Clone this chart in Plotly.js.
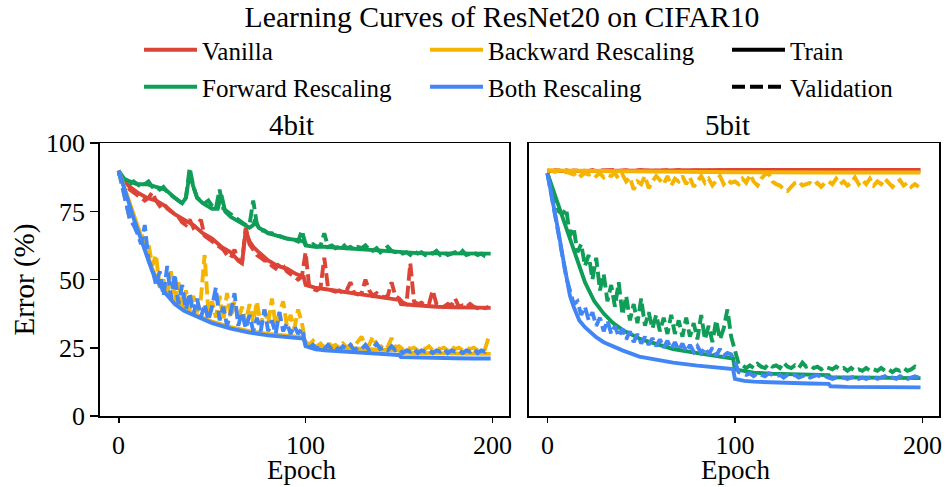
<!DOCTYPE html>
<html><head><meta charset="utf-8">
<script src="https://cdn.plot.ly/plotly-3.0.1.min.js"></script>
<style>html,body{margin:0;padding:0;background:#fff;} #chart{width:948px;height:487px;}</style>
</head><body><div id="chart"></div>
<script>
// ---------------- DATA ----------------
const methods = ['Vanilla', 'Forward Rescaling', 'Backward Rescaling', 'Both Rescaling'];
const panelTitles = ['4bit', '5bit'];
const xTicks = [0, 100, 200];
const yTicks = [0, 25, 50, 75, 100];

const epochsVal = [0,2,4,6,8,10,12,14,16,18,20,22,24,26,28,30,32,34,36,38,40,42,44,46,48,50,52,54,56,58,60,62,64,66,68,70,72,74,76,78,80,82,84,86,88,90,92,94,96,98,100,102,104,106,108,110,112,114,116,118,120,122,124,126,128,130,132,134,136,138,140,142,144,146,148,150,152,154,156,158,160,162,164,166,168,170,172,174,176,178,180,182,184,186,188,190,192,194,196,198];

// ---- 4bit ----
const vanilla4TrainEpochs = [0,3,6,10,15,20,25,30,35,40,45,50,55,60,64,66,67,68,70,72,75,80,85,90,95,99,100,105,110,120,130,140,150,151,160,170,180,190,199];
const vanilla4Train = [89,86,84,82,80,79,77,74,72,70,67,65,62,60,57,56,62,68,64,62,60,57,55,54,52,51,48,47,46.5,45.5,44.5,43.5,42.5,41,40.5,40,39.8,39.7,39.6];
const vanilla4Val = [
 89,86,85,83,82,81,80,79,80,82,
 79,77,78,76,75,74,73,71,70,72,
 69,70,72,66,65,64,63,62,61,59,
 58,61,57,56,69,63,61,59,58,57,
 57,55,54,56,55,53,52,51,50,51,
 60,47,46.5,46,47,58,47,46,45.5,46,
 45,46,49,45,44.5,45,50,46,44,45,
 44,43.5,44,49,44,43,41.5,41,56,42,
 41,41.5,40.5,41,46,41,40.5,40,41,40.5,
 43,40,40.5,40,41,40,39.5,40,39.5,40];

const forward4TrainEpochs = [0,3,6,10,15,20,25,30,34,36,38,40,42,45,50,53,55,57,60,65,70,72,73,75,80,85,90,95,99,100,105,110,120,130,140,150,151,160,170,180,190,199];
const forward4Train = [90,87,86,85,85,84,83,80,78,80,89,84,80,78,76,76,81,75,73,71,69,70,72,69,67,66,65,64.5,64,62.5,62,62,61.5,61,60.5,60.2,59.8,59.7,59.6,59.6,59.5,59.5];
const forward4Val = [
 90,87,86,85,86,85,84,85,86,84,
 84,83,84,82,81,80,79,78,80,91,
 84,80,79,78,79,77,76,83,76,75,
 74,73,72,71,70,70,79,70,68,68,
 67,67,66,66,65.5,65,65,64.5,64,68,
 63,62.5,63,62,62.5,67,62,62.5,61.5,62,
 63,61.5,62,61,62,61.5,62.5,61,60.5,61.5,
 60,61,62,60.5,60,60.5,59.5,60,59,60.5,
 59.5,60,59,60,59.5,60.5,59,60,59,59.5,
 60,59,60.5,59,59.5,60,59,59.5,58.5,58];

const backward4TrainEpochs = [0,2,4,6,8,10,12,14,16,18,20,25,30,35,40,45,50,60,70,80,90,99,100,105,110,120,130,140,150,151,160,170,180,190,199];
const backward4Train = [90,86,81,77,73,69,65,61,57,54,51,46,42,39.5,37.5,36,34.5,32.5,31,30,29.3,28.8,26.5,25.5,25.2,24.8,24.5,24.2,24,23.2,23,22.9,22.8,22.8,22.7];
const backward4Val = [
 90,84,78,72,71,68,68,62,63,55,
 59,47,50,44,53,42,49,40,46,39,
 44,38,43,59,38,42,36,44,35,45,
 36,42,35,40,34,41,34,42,33,39,
 34,43,33,38,42,33,37,32,39,34,
 27,26,27.5,25.5,26.5,25,27,25.5,26,25,
 26.5,25,26,25.5,27,29,25.5,26,29,26,
 25,26.5,25.5,28.5,25,25.5,24.5,25.5,24.5,25,
 24,25,24.5,25.5,24,25,24.5,25,24,25.5,
 24.5,25,24,25,24.5,25,24,25,24.5,29];

const both4TrainEpochs = backward4TrainEpochs;
const both4Train = [90,86,81,77,72.5,68.5,64.5,60.5,56.5,53,50,45,41,38.5,37,35.5,34,32,30.5,29.5,28.8,28.3,25.5,24.5,24,23.5,23,22.7,22.3,21.5,21.3,21.2,21.1,21,21];
const both4Val = [
 90,84,77,72,70,67,63,70,57,54,
 48,53,44,55,43,52,41,48,39,45,
 37,43,36,41,35,40,47,35,40,33,
 38,45,33,38,32,37,31,36,31,39,
 31,35,30,38,31,34,30,33,30,32,
 26,25,26,24.5,25.5,24.5,26,24.5,25.5,24,
 25.5,24.5,26,24,25,24.5,26,24,25,26.5,
 24.5,25,24,25.5,24,24.5,23,24,23.5,24.5,
 23,24,23.5,24,23,24,23.5,24.5,23,24,
 23.5,24,23,24,23.5,24.5,23,24,23.5,24.5];

// ---- 5bit ----
const vanilla5TrainEpochs = [0,50,100,150,199];
const vanilla5Train = [89.8,90.1,90.2,90.2,90.2];
const vanilla5Val = [
 90,89.8,90.1,89.9,90,90.1,89.8,90,89.9,90.1,
 90,89.9,90.2,89.8,90,90.1,89.9,90,90.2,89.9,
 90,90.1,89.8,90,89.9,90.2,90,89.9,90.1,90,
 89.9,90,90.1,89.8,90,90.2,89.9,90,90.1,89.9,
 90,89.9,90.1,90,89.8,90,90.1,89.9,90,90.1,
 90,90.2,89.9,90,90.1,89.9,90,90.2,90,89.9,
 90.1,90,89.9,90.1,90,89.8,90,90.1,90,89.9,
 90,90.1,89.9,90,90.2,90,89.9,90.1,90,90,
 89.9,90.1,90,89.9,90,90.1,90,89.9,90.1,90,
 90,89.9,90.1,90,89.9,90,90.1,90,89.9,90];

const forward5TrainEpochs = [0,2,5,8,11,14,17,20,25,30,35,40,50,60,67,80,94,99,100,105,110,120,130,140,150,151,160,170,180,190,199];
const forward5Train = [89,85,79,72,66,60,54,49,42,37.5,34,31.5,28,25.8,24.5,23,21.5,21,17,16.3,15.8,15.4,15.2,15,14.9,14.1,14,13.9,13.8,13.8,13.8];
const forward5Val = [
 89,84,79,75,74,76,66,69,60,63,
 55,59,50,58,46,52,42,48,40,49,
 37,44,35,41,34,43,33,38,32,37,
 31,36,30,37,30,35,29,36,29,34,
 28,37,28,33,27,35,28,32,39,29,
 24,19,18.5,17.5,18.5,17.5,19,18,17.5,19,
 18,18.5,17.5,19.5,18,17.5,18.5,17.5,19.5,18,
 18.5,17.5,18,17,18,17.5,17,18,17,17.5,
 16.5,17.5,16.5,17,16.5,17.5,16.5,17,16.5,17.5,
 16.5,17,16,17,16.5,17.5,16.5,17,18,17];

const backward5TrainEpochs = [0,50,100,150,199];
const backward5Train = [90,89.6,89.4,89.3,89.3];
const backward5Val = [
 90,90,89.5,90,89,89.5,89,88.5,89.5,88,
 89,88.5,89,88,89,87.5,88.5,88,89,87,
 88.5,86,87.5,83,86,85,88,83.5,86,88,
 86.5,85,88,84.5,87,86,88,85,87.5,84,
 86,88,85.5,87,84.5,86,88,85,86.5,85.5,
 86,85,87,85.5,88.5,86,84.5,87,88.5,89,
 86,85,84.5,83,82.5,84,85.5,86,84.5,85,
 85.5,84.5,85.5,84,85.5,86,85,87,85,86,
 84.5,85.5,87.5,85,86.5,85,87,84.5,86,85,
 87,85.5,84,85.5,86.5,84.5,85.5,84,85,84];

const both5TrainEpochs = [0,2,4,6,8,10,12,14,17,20,26,30,40,49,60,67,80,90,98,99,100,105,110,120,130,140,150,151,160,170,180,190,199];
const both5Train = [89,82,75,67,59,51,44,40,35,32.5,28.8,27,24,21.7,20.3,19.5,18.4,17.7,17.2,17.1,13.5,12.8,12.5,12.2,12,11.8,11.7,10.8,10.6,10.5,10.4,10.4,10.4];
const both5Val = [
 89,81,74,66,58,51,46,41,42,37,
 40,35,38,33,36,31,35,30,33,29,
 32,28,31,27,30,26.5,29,26,28.5,25.5,
 28,25,27.5,24.5,27,24,26.5,23.5,26,23.5,
 25.5,23,25,22.5,25,22,24.5,22,23,22.5,
 20,16,15.5,15,15.5,14.5,15.5,15,14.5,15.5,
 15,14.5,15,14,15,14.5,15,14,14.5,15,
 14,14.5,15,14,14.5,14,13.5,14,13.5,14,
 13.5,14,14.5,13.5,14,13.5,14,14.5,13.5,14,
 14.5,13.5,14,13.5,14.5,14,13.5,14,14.5,14];

// ---------------- STYLE ----------------
const colors = ['#DB4437', '#0F9D58', '#F4B400', '#4285F4'];
const FONT = 'Liberation Serif, Times New Roman, serif';
const LW = 3.9;
const DASH = '13px,5px';

const series = [
  {name: methods[0], legend: 'legend', t4x: vanilla4TrainEpochs, t4: vanilla4Train, v4: vanilla4Val, t5x: vanilla5TrainEpochs, t5: vanilla5Train, v5: vanilla5Val},
  {name: methods[1], legend: 'legend', t4x: forward4TrainEpochs, t4: forward4Train, v4: forward4Val, t5x: forward5TrainEpochs, t5: forward5Train, v5: forward5Val},
  {name: methods[2], legend: 'legend2', t4x: backward4TrainEpochs, t4: backward4Train, v4: backward4Val, t5x: backward5TrainEpochs, t5: backward5Train, v5: backward5Val},
  {name: methods[3], legend: 'legend2', t4x: both4TrainEpochs, t4: both4Train, v4: both4Val, t5x: both5TrainEpochs, t5: both5Train, v5: both5Val}
];

const traces = [];
series.forEach((s, i) => {
  const c = colors[i];
  const g = 'g' + i;
  traces.push({x: s.t4x, y: s.t4, xaxis: 'x', yaxis: 'y', mode: 'lines', name: s.name, legend: s.legend, legendgroup: g, showlegend: true, line: {color: c, width: LW}});
  traces.push({x: epochsVal, y: s.v4, xaxis: 'x', yaxis: 'y', mode: 'lines', name: s.name, legendgroup: g, showlegend: false, line: {color: c, width: LW, dash: DASH}});
  traces.push({x: s.t5x, y: s.t5, xaxis: 'x2', yaxis: 'y2', mode: 'lines', name: s.name, legendgroup: g, showlegend: false, line: {color: c, width: LW}});
  traces.push({x: epochsVal, y: s.v5, xaxis: 'x2', yaxis: 'y2', mode: 'lines', name: s.name, legendgroup: g, showlegend: false, line: {color: c, width: LW, dash: DASH}});
});
traces.push({x: [null], y: [null], xaxis: 'x', yaxis: 'y', mode: 'lines', name: 'Train', legend: 'legend3', legendgroup: 'train', showlegend: true, line: {color: 'black', width: LW}});
traces.push({x: [null], y: [null], xaxis: 'x', yaxis: 'y', mode: 'lines', name: 'Validation', legend: 'legend3', legendgroup: 'val', showlegend: true, line: {color: 'black', width: LW, dash: DASH}});

const axisCommon = {
  showline: true, mirror: true, linecolor: 'black', linewidth: 1.8,
  showgrid: false, zeroline: false,
  tickfont: {family: FONT, size: 26, color: 'black'},
  tickcolor: 'black', tickwidth: 1.8
};
const legendCommon = {
  orientation: 'v', xanchor: 'left', yanchor: 'top', y: 0.9445,
  font: {family: FONT, size: 25, color: 'black'},
  bgcolor: 'rgba(0,0,0,0)', borderwidth: 0, itemwidth: 53,
  traceorder: 'grouped', tracegroupgap: 1.5
};
const labelFont = {family: FONT, size: 27, color: 'black'};

const layout = {
  width: 948, height: 487,
  margin: {l: 0, r: 0, t: 0, b: 0},
  paper_bgcolor: 'white', plot_bgcolor: 'white',
  showlegend: true,
  title: {text: 'Learning Curves of ResNet20 on CIFAR10', font: {family: FONT, size: 29.7, color: 'black'},
          x: 502 / 948, xanchor: 'center', y: 1 - 17 / 487, yanchor: 'middle'},
  xaxis: Object.assign({}, axisCommon, {domain: [0.1055, 0.5372], range: [-9.95, 208.95], tickvals: xTicks, ticks: 'outside', ticklen: 5, anchor: 'y'}),
  xaxis2: Object.assign({}, axisCommon, {domain: [0.5578, 0.9907], range: [-9.95, 208.95], tickvals: xTicks, ticks: 'outside', ticklen: 5, anchor: 'y2'}),
  yaxis: Object.assign({}, axisCommon, {domain: [0.1464, 0.7057], range: [0, 100], tickvals: yTicks, ticks: 'outside', ticklen: 8, anchor: 'x'}),
  yaxis2: Object.assign({}, axisCommon, {domain: [0.1464, 0.7057], range: [0, 100], matches: 'y', tickvals: yTicks, ticks: '', showticklabels: false, anchor: 'x2'}),
  legend: Object.assign({}, legendCommon, {x: 139 / 948}),
  legend2: Object.assign({}, legendCommon, {x: 425 / 948}),
  legend3: Object.assign({}, legendCommon, {x: 727 / 948}),
  annotations: [
    {text: panelTitles[0], xref: 'paper', yref: 'paper', x: 291 / 948, y: 1 - 125 / 487, xanchor: 'center', yanchor: 'middle', showarrow: false, font: {family: FONT, size: 29, color: 'black'}},
    {text: panelTitles[1], xref: 'paper', yref: 'paper', x: 727.5 / 948, y: 1 - 125 / 487, xanchor: 'center', yanchor: 'middle', showarrow: false, font: {family: FONT, size: 29, color: 'black'}},
    {text: 'Epoch', xref: 'paper', yref: 'paper', x: 301 / 948, y: 1.5 / 487, xanchor: 'center', yanchor: 'bottom', showarrow: false, borderpad: 0, font: labelFont},
    {text: 'Epoch', xref: 'paper', yref: 'paper', x: 735 / 948, y: 1.5 / 487, xanchor: 'center', yanchor: 'bottom', showarrow: false, borderpad: 0, font: labelFont},
    {text: 'Error (%)', xref: 'paper', yref: 'paper', x: 23.5 / 948, y: 1 - 280 / 487, xanchor: 'center', yanchor: 'middle', textangle: -90, showarrow: false, font: {family: FONT, size: 29, color: 'black'}}
  ]
};

Plotly.newPlot('chart', traces, layout, {staticPlot: true, displayModeBar: false});
</script></body></html>
